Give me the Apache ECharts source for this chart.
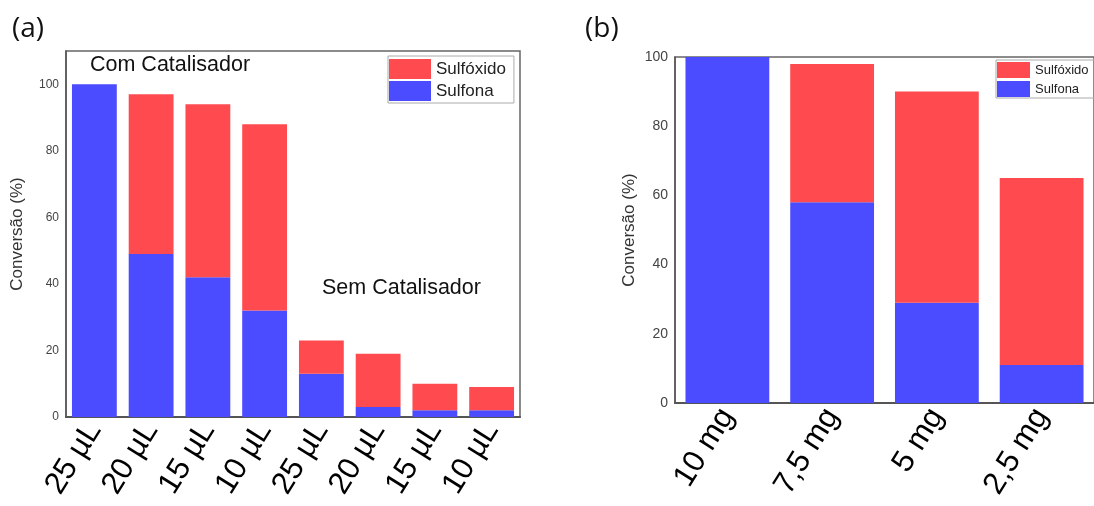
<!DOCTYPE html>
<html>
<head>
<meta charset="utf-8">
<script src="https://cdn.jsdelivr.net/npm/echarts@6/dist/echarts.min.js"></script>
<style>html,body{margin:0;padding:0;background:#fff}#c{width:1094px;height:506px}</style>
</head>
<body>
<div id="c"></div>
<script>
// Panel (a)
const catsA = ['25 µL','20 µL','15 µL','10 µL','25 µL','20 µL','15 µL','10 µL'];
const sulfonaA = [100, 49, 42, 32, 13, 3, 2, 2];
const sulfoxidoA = [0, 48, 52, 56, 10, 16, 8, 7];
// Panel (b)
const catsB = ['10 mg','7,5 mg','5 mg','2,5 mg'];
const sulfonaB = [100, 58, 29, 11];
const sulfoxidoB = [0, 40, 61, 54];
const yTicks = [0, 20, 40, 60, 80, 100];

const RED = '#ff4b4f', BLUE = '#4b4bff';
const FONT = '"Liberation Sans", Arial, sans-serif';

const chart = echarts.init(document.getElementById('c'), null, {renderer: 'canvas'});
function xAx(idx, data) {
  return {
    type: 'category', gridIndex: idx, data: data, boundaryGap: true,
    axisLine: {show: true, lineStyle: {color: '#555', width: 2}},
    axisTick: {show: false},
    axisLabel: {interval: 0, rotate: 58, margin: 8, fontSize: 31, color: '#000', fontFamily: FONT}
  };
}
function yAx(idx, max, nameGap, labelSize) {
  return {
    type: 'value', gridIndex: idx, min: 0, max: max, interval: 20,
    name: 'Conversão (%)', nameLocation: 'middle', nameGap: nameGap,
    nameTextStyle: {fontSize: 17, color: '#333', fontFamily: FONT},
    axisLine: {show: true, lineStyle: {color: '#555', width: 1.5}},
    axisTick: {show: false},
    splitLine: {show: false},
    axisLabel: {fontSize: labelSize, color: '#444', margin: 7, fontFamily: FONT,
      formatter: v => yTicks.indexOf(v) >= 0 ? String(v) : ''}
  };
}
chart.setOption({
  animation: false,
  title: [
    {text: '(a)', left: 7, top: 10, textStyle: {fontSize: 28, fontWeight: 'normal', color: '#111', fontFamily: 'Open Sans, sans-serif'}},
    {text: '(b)', left: 580, top: 10, textStyle: {fontSize: 28, fontWeight: 'normal', color: '#111', fontFamily: 'Open Sans, sans-serif'}}
  ],
  grid: [
    {left: 66, right: 574, top: 51, bottom: 89, show: true, borderColor: '#666', borderWidth: 1.5, backgroundColor: 'transparent'},
    {left: 675, right: -8, top: 57, bottom: 103, show: true, borderColor: '#666', borderWidth: 1.5, backgroundColor: 'transparent'}
  ],
  legend: [
    {data: ['Sulfóxido', 'Sulfona'], orient: 'vertical', left: 388, top: 56,
     itemWidth: 42, itemHeight: 20, itemGap: 2, padding: [3, 8, 2, 1],
     borderColor: '#aaa', borderWidth: 1, icon: 'rect',
     textStyle: {fontSize: 17, color: '#222', fontFamily: FONT}},
    {data: ['Sulfóxido', 'Sulfona'], orient: 'vertical', left: 996, top: 60,
     itemWidth: 33, itemHeight: 16, itemGap: 3, padding: [2, 8, 1, 1],
     borderColor: '#aaa', borderWidth: 1, icon: 'rect',
     textStyle: {fontSize: 13, color: '#222', fontFamily: FONT}}
  ],
  xAxis: [xAx(0, catsA), xAx(1, catsB)],
  yAxis: [yAx(0, 110, 40, 12), yAx(1, 100, 37, 14)],
  graphic: [
    {type: 'text', left: 90, top: 54, style: {text: 'Com Catalisador', fontSize: 21.5, fill: '#111', fontFamily: FONT}},
    {type: 'text', left: 322, top: 277, style: {text: 'Sem Catalisador', fontSize: 21.5, fill: '#111', fontFamily: FONT}}
  ],
  series: [
    {name: 'Sulfona', type: 'bar', xAxisIndex: 0, yAxisIndex: 0, stack: 'a', data: sulfonaA, barCategoryGap: '21%', itemStyle: {color: BLUE}},
    {name: 'Sulfóxido', type: 'bar', xAxisIndex: 0, yAxisIndex: 0, stack: 'a', data: sulfoxidoA, barCategoryGap: '21%', itemStyle: {color: RED}},
    {name: 'Sulfona', type: 'bar', xAxisIndex: 1, yAxisIndex: 1, stack: 'b', data: sulfonaB, barCategoryGap: '20%', itemStyle: {color: BLUE}},
    {name: 'Sulfóxido', type: 'bar', xAxisIndex: 1, yAxisIndex: 1, stack: 'b', data: sulfoxidoB, barCategoryGap: '20%', itemStyle: {color: RED}}
  ]
});
</script>
</body>
</html>
